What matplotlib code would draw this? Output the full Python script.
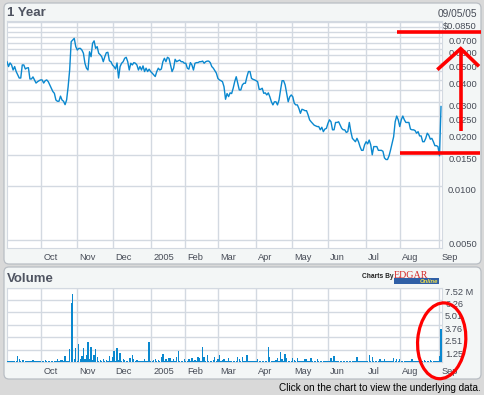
import numpy as np
import pandas as pd
import matplotlib
matplotlib.use("Agg")
import matplotlib.pyplot as plt
from matplotlib.patches import FancyBboxPatch, Ellipse, Rectangle
from matplotlib.lines import Line2D
from matplotlib.ticker import NullFormatter, NullLocator
from matplotlib.transforms import IdentityTransform, blended_transform_factory, offset_copy

plt.rcParams["font.family"] = ["Liberation Sans", "DejaVu Sans"]

# ---------------- data ----------------
holidays = ["2004-09-06", "2004-11-25", "2004-12-24", "2005-01-17", "2005-02-21",
            "2005-03-25", "2005-05-30", "2005-07-04"]
start_date = "2004-09-02"
end_date = "2005-09-02"

price = [
    0.0507, 0.0476, 0.0499, 0.0486, 0.0455, 0.0476, 0.0446, 0.0427, 0.0410, 0.0410,
    0.0486, 0.0486, 0.0461, 0.0467, 0.0469, 0.0405, 0.0405, 0.0416, 0.0400, 0.0384,
    0.0391, 0.0396, 0.0400,
    0.0400, 0.0384, 0.0396, 0.0400, 0.0391, 0.0375, 0.0359, 0.0344, 0.0336, 0.0308,
    0.0303, 0.0303, 0.0324,
    0.0308, 0.0303, 0.0290, 0.0308, 0.0366, 0.0455, 0.0658, 0.0672, 0.0687, 0.0617,
    0.0590, 0.0603, 0.0603, 0.0590, 0.0566, 0.0497, 0.0466, 0.0455, 0.0577, 0.0541,
    0.0644, 0.0665,
    0.0603, 0.0617, 0.0566, 0.0555, 0.0541, 0.0507, 0.0541, 0.0570, 0.0573, 0.0513,
    0.0507, 0.0486, 0.0476, 0.0461, 0.0499, 0.0410, 0.0476, 0.0497, 0.0507, 0.0530,
    0.0537, 0.0507, 0.0455, 0.0497, 0.0486, 0.0501, 0.0497, 0.0486, 0.0455, 0.0476,
    0.0455, 0.0480, 0.0446, 0.0466, 0.0446, 0.0460, 0.0446, 0.0437, 0.0427, 0.0418,
    0.0446, 0.0466, 0.0455, 0.0461, 0.0507, 0.0530, 0.0507, 0.0537, 0.0530, 0.0486,
    0.0446, 0.0466, 0.0523, 0.0507, 0.0513, 0.0518, 0.0507, 0.0507, 0.0497, 0.0497,
    0.0466, 0.0460, 0.0501, 0.0486, 0.0455, 0.0497, 0.0501, 0.0501, 0.0507, 0.0507,
    0.0511, 0.0497, 0.0507, 0.0511, 0.0511, 0.0501, 0.0476, 0.0466, 0.0451, 0.0437,
    0.0408, 0.0400, 0.0396, 0.0391, 0.0366, 0.0311, 0.0335, 0.0322, 0.0338, 0.0335,
    0.0359, 0.0391, 0.0417, 0.0383, 0.0351, 0.0351, 0.0375, 0.0383, 0.0383, 0.0417,
    0.0446, 0.0446, 0.0408, 0.0403, 0.0400, 0.0396, 0.0391, 0.0354, 0.0354, 0.0359,
    0.0336, 0.0338, 0.0329, 0.0338, 0.0321, 0.0301, 0.0289, 0.0301, 0.0301, 0.0289,
    0.0308, 0.0351, 0.0396, 0.0396, 0.0375, 0.0336, 0.0301, 0.0321, 0.0329, 0.0321,
    0.0295, 0.0289, 0.0289, 0.0276, 0.0259, 0.0273, 0.0271, 0.0268, 0.0268, 0.0254,
    0.0238, 0.0232, 0.0227, 0.0222, 0.0220, 0.0218, 0.0218, 0.0209, 0.0216, 0.0204,
    0.0211, 0.0213, 0.0227, 0.0238, 0.0232, 0.0209, 0.0209, 0.0230, 0.0230, 0.0232,
    0.0222, 0.0213, 0.0209, 0.0209, 0.0202, 0.0204, 0.0230, 0.0204, 0.0187, 0.0183,
    0.0179, 0.0187, 0.0179, 0.0168, 0.0160, 0.0160, 0.0172, 0.0179, 0.0174, 0.0183,
    0.0172, 0.0151, 0.0168, 0.0168, 0.0168, 0.0160, 0.0160, 0.0160, 0.0158, 0.0145,
    0.0142, 0.0142, 0.0149, 0.0161, 0.0175, 0.0191, 0.0232, 0.0250, 0.0238, 0.0218,
    0.0238, 0.0250, 0.0238, 0.0230, 0.0230, 0.0230, 0.0211, 0.0209, 0.0209, 0.0207,
    0.0200, 0.0204, 0.0193, 0.0193, 0.0179, 0.0179, 0.0187, 0.0200, 0.0195, 0.0185,
    0.0187, 0.0179, 0.0170, 0.0170, 0.0168, 0.0149, 0.0283,
]

volume_m = [
    0.08, 0.06, 0.09, 0.07, 0.10, 0.06, 0.08, 0.58, 0.27, 0.12, 0.17, 0.17, 0.08, 0.06, 0.09, 0.07, 0.10, 0.17, 0.08, 0.06,
    0.09, 0.07, 0.08, 0.10, 0.06, 0.17, 0.08, 0.07, 0.09, 0.06, 0.08, 0.10, 0.07, 0.27, 0.09, 0.17, 0.17, 0.12, 0.58, 0.10,
    0.08, 1.29, 6.00, 6.90, 0.30, 1.39, 0.12, 1.80, 0.34, 0.58, 1.39, 0.34, 0.68, 2.00, 0.34, 1.49, 0.20, 0.68, 1.29, 0.51,
    0.12, 0.17, 0.10, 0.27, 0.08, 0.17, 0.10, 0.61, 0.12, 0.51, 1.08, 0.15, 1.39, 0.20, 0.88, 0.12, 0.27, 0.17, 0.08, 0.10,
    0.37, 0.37, 0.68, 0.27, 0.10, 0.17, 0.08, 0.06, 0.10, 0.08, 0.27, 0.07, 0.09, 2.00, 0.08, 0.10, 0.17, 0.27, 0.10, 0.17,
    0.08, 0.51, 0.78, 0.12, 0.27, 0.10, 0.37, 0.37, 0.12, 0.27, 0.09, 0.47, 1.08, 0.08, 0.10, 0.07, 0.27, 0.10, 0.08, 0.27,
    0.10, 0.37, 0.08, 0.17, 0.10, 0.47, 0.37, 0.12, 1.49, 0.51, 0.10, 0.68, 0.08, 0.10, 0.07, 0.17, 0.47, 0.10, 0.27, 0.68,
    0.08, 0.17, 0.27, 0.10, 0.07, 0.37, 0.08, 0.10, 0.06, 0.09, 0.10, 0.47, 0.27, 0.08, 0.47, 0.10, 0.07, 0.68, 0.10, 0.08,
    0.06, 0.09, 0.07, 0.10, 0.27, 0.08, 0.06, 0.09, 0.07, 0.10, 0.08, 1.49, 0.47, 0.10, 0.08, 0.12, 0.17, 0.37, 0.10, 0.98,
    0.27, 0.10, 0.78, 0.37, 0.08, 0.10, 0.07, 0.37, 0.17, 0.08, 0.37, 0.10, 0.07, 0.09, 0.06, 0.27, 0.27, 0.08, 0.10, 0.37,
    0.08, 0.06, 0.10, 0.27, 0.08, 0.07, 0.09, 0.06, 0.08, 0.10, 0.07, 0.09, 0.37, 0.10, 0.58, 0.08, 0.06, 0.09, 0.07, 0.08,
    0.10, 0.06, 0.08, 0.07, 0.09, 0.06, 0.10, 0.08, 0.07, 0.47, 0.09, 0.06, 0.08, 0.10, 0.07, 0.09, 0.12, 0.68, 0.10, 0.47,
    0.08, 0.10, 0.07, 0.12, 0.27, 0.08, 0.10, 0.27, 0.07, 0.09, 0.10, 0.06, 0.12, 0.37, 0.10, 0.27, 0.08, 0.27, 0.10, 0.07,
    0.09, 0.12, 0.08, 0.10, 0.07, 0.27, 0.09, 0.06, 0.10, 0.08, 0.07, 0.12, 0.09, 0.17, 0.08, 0.06, 0.10, 0.17, 0.08, 0.07,
    0.12, 0.10, 0.15, 0.58, 3.36,
]

month_labels = ["Oct", "Nov", "Dec", "2005", "Feb", "Mar", "Apr", "May", "Jun", "Jul", "Aug", "Sep"]
price_grid = [0.005, 0.010, 0.015, 0.020, 0.025, 0.030, 0.035, 0.040, 0.045, 0.050,
              0.055, 0.060, 0.065, 0.070, 0.075, 0.080, 0.085]
price_label_vals = [0.0850, 0.0700, 0.0600, 0.0500, 0.0400, 0.0300, 0.0250, 0.0200, 0.0150, 0.0100, 0.0050]
price_label_txt = ["$0.0850", "0.0700", "0.0600", "0.0500", "0.0400", "0.0300", "0.0250",
                   "0.0200", "0.0150", "0.0100", "0.0050"]
vol_ticks = [1.2533, 2.5067, 3.76, 5.0133, 6.2667, 7.52]
vol_tick_txt = ["1.25", "2.51", "3.76", "5.01", "6.26", "7.52 M"]
price_ylim = (0.00449, 0.0861)

# ---------------- layout helpers ----------------
W, H = 484, 395
fig = plt.figure(figsize=(W / 100, H / 100), dpi=100)
fig.patch.set_facecolor("#d9d9d9")
ID = IdentityTransform()


def rect(x0, y0, x1, y1):
    return [x0 / W, 1 - y1 / H, (x1 - x0) / W, (y1 - y0) / H]


def panel(x0, y0, x1, y1):
    p = FancyBboxPatch((x0, H - y1), x1 - x0, y1 - y0,
                       boxstyle="round,pad=0,rounding_size=5",
                       transform=ID, fc="#f3f6f6", ec="#b9bec4", lw=0.9, zorder=0)
    fig.add_artist(p)


panel(4, 3, 481, 264)
panel(4, 267, 481, 379)

GRID = "#d3d9e1"
LINE = "#0a88cf"
TXT = "#474c57"

days = pd.bdate_range(start_date, end_date, freq="C", holidays=holidays)
nd = len(days)
xpos = np.linspace(0, nd - 1, len(price))
month_idx = [i for i in range(1, nd) if days[i].month != days[i - 1].month]
xmax = nd - 1 + 0.4

# ---------------- price panel ----------------
ax = fig.add_axes(rect(7, 21, 441.7, 248))
ax.set_facecolor("white")
ax.plot(xpos, price, color=LINE, lw=1.0, zorder=3)
ax.set_yscale("log")
ax.set_ylim(*price_ylim)
ax.set_xlim(0, xmax)
ax.set_yticks(price_grid)
ax.yaxis.set_major_formatter(NullFormatter())
ax.yaxis.set_minor_locator(NullLocator())
ax.set_xticks(month_idx)
ax.xaxis.set_major_formatter(NullFormatter())
ax.tick_params(length=0)
ax.grid(True, color=GRID, lw=1.0)
for s in ax.spines.values():
    s.set_color(GRID)

tr_lab = blended_transform_factory(fig.transFigure, ax.transData)
for v, t in zip(price_label_vals, price_label_txt):
    ax.text(477 / W, v, t, transform=tr_lab, ha="right", va="top",
            fontsize=6.7, color=TXT, clip_on=False)

tr_m = offset_copy(blended_transform_factory(ax.transData, fig.transFigure), fig=fig, x=2, y=0, units="dots")
for i, lab in zip(month_idx, month_labels):
    ax.text(i, 1 - 257.7 / H, lab, transform=tr_m, ha="left", va="center",
            fontsize=6.7, color=TXT, clip_on=False)

fig.text(7 / W, 1 - 12.5 / H, "1 Year", fontsize=9.5, fontweight="bold", color="#4f5461",
         ha="left", va="center")
fig.text(477 / W, 1 - 14 / H, "09/05/05", fontsize=7.3, color=TXT, ha="right", va="center")

# ---------------- volume panel ----------------
av = fig.add_axes(rect(7, 287.7, 441.7, 362))
av.set_facecolor("white")
av.bar(xpos, volume_m, width=0.75, color=LINE, lw=0, zorder=3)
av.set_ylim(0, vol_ticks[-1])
av.set_xlim(0, xmax)
av.set_yticks(vol_ticks)
av.yaxis.set_major_formatter(NullFormatter())
av.set_xticks(month_idx)
av.xaxis.set_major_formatter(NullFormatter())
av.tick_params(length=0)
av.grid(True, color=GRID, lw=1.0)
for s in av.spines.values():
    s.set_color(GRID)

tr_v = blended_transform_factory(fig.transFigure, av.transData)
for v, t in zip(vol_ticks, vol_tick_txt):
    av.text(445 / W, v, t, transform=tr_v, ha="left", va="top",
            fontsize=6.7, color=TXT, clip_on=False)

tr_mv = offset_copy(blended_transform_factory(av.transData, fig.transFigure), fig=fig, x=2, y=0, units="dots")
for i, lab in zip(month_idx, month_labels):
    av.text(i, 1 - 371.7 / H, lab, transform=tr_mv, ha="left", va="center",
            fontsize=6.7, color=TXT, clip_on=False)

fig.text(7 / W, 1 - 279 / H, "Volume", fontsize=9.5, fontweight="bold", color="#4f5461",
         ha="left", va="center")

# EDGAR Online logo
fig.text(393 / W, 1 - 277 / H, "Charts By", fontsize=4.8, fontweight="bold", color="#222222",
         ha="right", va="center")
fig.text(394 / W, 1 - 277.5 / H, "EDGAR", fontsize=7.2, family="Liberation Serif", color="#d42a2a",
         ha="left", va="baseline")
fig.add_artist(Rectangle((394, H - 284), 45, 6, transform=ID, fc="#2f5fa6", ec="none", zorder=2))
fig.text(438 / W, 1 - 281.2 / H, "Online", fontsize=4.2, fontweight="bold", style="italic",
         color="#f2e24a", ha="right", va="center", zorder=3)

fig.text(481 / W, 1 - 388 / H, "Click on the chart to view the underlying data.", fontsize=7.2,
         color="black", ha="right", va="center")

# ---------------- red hand-drawn annotations ----------------
RED = "#ff0000"


def red_line(xs, ys, lw=2.6, z=30):
    fig.add_artist(Line2D(xs, [H - y for y in ys], transform=ID, color=RED, lw=lw,
                          solid_capstyle="butt", solid_joinstyle="miter", zorder=z))


red_line([396.7, 480.7], [32, 32])
red_line([400, 480], [153.3, 153.3])
red_line([460.7, 460.7], [131.3, 48.7])
red_line([437.3, 460.7, 479], [69.7, 48.7, 66.3])
fig.add_artist(Ellipse((441.7, H - 340.8), 48, 76, angle=-5, transform=ID, fill=False,
                       ec=RED, lw=2.3, zorder=30))

fig.savefig("out.png", dpi=100, facecolor=fig.get_facecolor())
